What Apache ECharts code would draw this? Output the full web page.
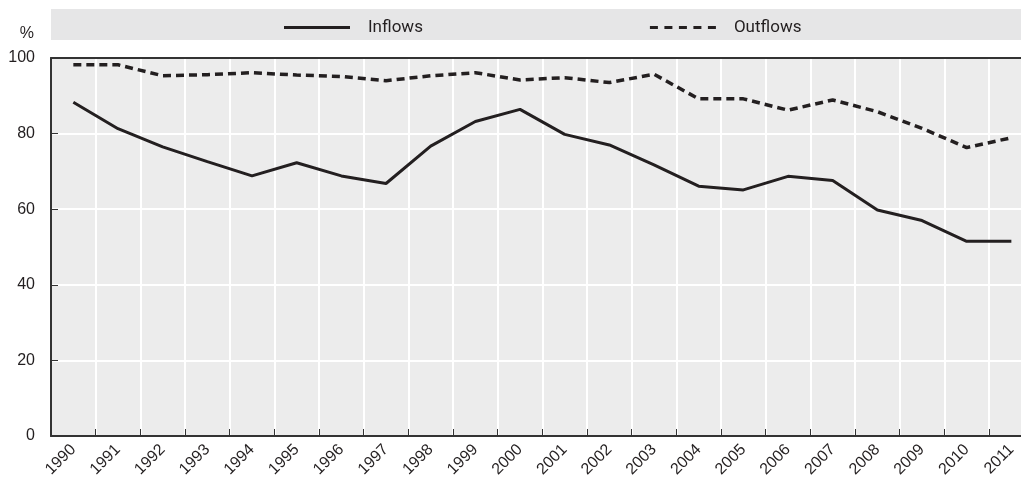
<!DOCTYPE html>
<html>
<head>
<meta charset="utf-8">
<script src="https://cdn.jsdelivr.net/npm/echarts@6/dist/echarts.min.js"></script>
<style>
  html, body { margin: 0; padding: 0; background: #fff; }
  #chart { width: 1021px; height: 481px; }
</style>
</head>
<body>
<div id="chart"></div>
<script>
// values
var years = ['1990', '1991', '1992', '1993', '1994', '1995', '1996', '1997', '1998', '1999', '2000',
  '2001', '2002', '2003', '2004', '2005', '2006', '2007', '2008', '2009', '2010', '2011']
var inflows = [88.3, 81.3, 76.5, 72.6, 68.8, 72.3, 68.8, 66.8, 76.7, 83.2, 86.4,
  79.8, 77.0, 71.7, 66.1, 65.1, 68.7, 67.6, 59.8, 57.0, 51.5, 51.5]
var outflows = [98.2, 98.2, 95.3, 95.6, 96.1, 95.5, 95.1, 94.0, 95.3, 96.1, 94.2,
  94.8, 93.5, 95.7, 89.2, 89.2, 86.2, 88.9, 85.8, 81.4, 76.3, 78.9]
var yTicks = [0, 20, 40, 60, 80, 100]

var ink = '#231f20'
var sans = 'Liberation Sans, Arial, sans-serif'
var narrow = '"Liberation Sans Narrow", "Arial Narrow", Roboto, sans-serif'
// dashed legend key
var dashIcon = 'path://M0,0h8v3h-8zM14.5,0h8v3h-8zM29,0h8v3h-8zM43.5,0h8v3h-8zM58,0h8v3h-8z'

var myChart = echarts.init(document.getElementById('chart'))
myChart.setOption({
  animation: false,
  backgroundColor: '#fff',
  graphic: [
    {
      // legend band
      type: 'rect',
      z: 0,
      shape: { x: 51, y: 9, width: 970, height: 31 },
      style: { fill: '#e6e6e7' },
    },
  ],
  legend: {
    left: 279,
    top: 14,
    itemWidth: 66,
    itemHeight: 3,
    itemGap: 227,
    textStyle: {
      color: ink,
      fontSize: 17,
      fontFamily: narrow,
      padding: [0, 0, 0, 13],
    },
    data: [
      { name: 'Inflows', icon: 'rect' },
      { name: 'Outflows', icon: dashIcon },
    ],
  },
  grid: {
    left: 51,
    top: 58,
    width: 982.7,
    height: 378,
    containLabel: false,
    outerBoundsMode: 'none',
    show: true,
    backgroundColor: '#ececec',
    borderWidth: 0,
  },
  xAxis: [
    {
      type: 'category',
      data: years,
      boundaryGap: true,
      axisLine: { lineStyle: { color: '#333', width: 2 } },
      axisTick: { show: true, inside: true, length: 7, lineStyle: { color: '#333', width: 1 } },
      axisLabel: {
        rotate: 45,
        margin: 11,
        interval: 0,
        color: ink,
        fontSize: 16,
        fontFamily: sans,
      },
      splitLine: { show: true, interval: 0, lineStyle: { color: '#fff', width: 2 } },
    },
    {
      // top border of the plot
      type: 'category',
      position: 'top',
      data: years,
      axisLine: { show: true, lineStyle: { color: '#333', width: 2 } },
      axisTick: { show: false },
      axisLabel: { show: false },
      splitLine: { show: false },
    },
  ],
  yAxis: {
    type: 'value',
    min: yTicks[0],
    max: yTicks[yTicks.length - 1],
    interval: 20,
    name: '%',
    nameGap: 16,
    nameTextStyle: {
      color: ink,
      fontSize: 16,
      align: 'right',
      padding: [0, 17, 0, 0],
      fontFamily: sans,
    },
    axisLine: { show: true, lineStyle: { color: '#333', width: 2 } },
    axisTick: { show: true, inside: true, length: 7, lineStyle: { color: '#333', width: 1 } },
    axisLabel: {
      margin: 16,
      color: ink,
      fontSize: 16,
      fontFamily: sans,
    },
    splitLine: { show: true, lineStyle: { color: '#fff', width: 2 } },
  },
  series: [
    {
      name: 'Inflows',
      type: 'line',
      data: inflows,
      symbol: 'none',
      color: ink,
      lineStyle: { color: ink, width: 3 },
    },
    {
      name: 'Outflows',
      type: 'line',
      data: outflows,
      symbol: 'none',
      color: ink,
      lineStyle: { color: ink, width: 3.5, type: [8, 5] },
    },
  ],
})
</script>
</body>
</html>
